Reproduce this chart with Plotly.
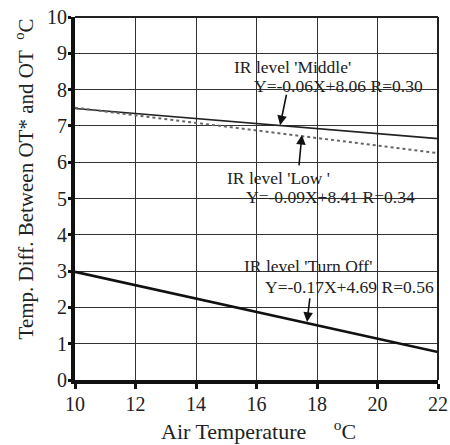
import plotly.graph_objects as go

# Data (endpoints of fitted regression lines)
air_temp = [10, 22]
middle = [7.48, 6.65]
low = [7.50, 6.25]
turn_off = [2.98, 0.77]

x_ticks = [10, 12, 14, 16, 18, 20, 22]
y_ticks = [0, 1, 2, 3, 4, 5, 6, 7, 8, 9, 10]

FONT = "Liberation Serif"

fig = go.Figure()
fig.add_trace(go.Scatter(x=air_temp, y=middle, mode="lines",
                         line=dict(color="#222", width=1.6), showlegend=False))
fig.add_trace(go.Scatter(x=air_temp, y=low, mode="lines",
                         line=dict(color="#666", width=2, dash="dot"), showlegend=False))
fig.add_trace(go.Scatter(x=air_temp, y=turn_off, mode="lines",
                         line=dict(color="#111", width=2.6), showlegend=False))

ann_font = dict(family=FONT, size=17.5, color="#222")
annotations = [
    dict(x=15.19, y=8.62, text="IR level 'Middle'"),
    dict(x=15.85, y=8.1, text="Y=-0.06X+8.06 R=0.30"),
    dict(x=14.96, y=5.56, text="IR level 'Low '"),
    dict(x=15.6, y=5.03, text="Y=-0.09X+8.41 R=0.34"),
    dict(x=15.52, y=3.13, text="IR level 'Turn Off'"),
    dict(x=16.2, y=2.55, text="Y=-0.17X+4.69 R=0.56"),
]
for a in annotations:
    a.update(showarrow=False, font=ann_font, xref="x", yref="y",
             xanchor="left", yanchor="middle")

arrows = [
    # (tail x, tail y, head x, head y)
    (17.0, 7.9, 16.78, 7.02),
    (17.4, 5.87, 17.5, 6.75),
    (17.77, 2.29, 17.67, 1.6),
]
for tx, ty, hx, hy in arrows:
    annotations.append(dict(x=hx, y=hy, ax=tx, ay=ty, xref="x", yref="y",
                            axref="x", ayref="y", text="", showarrow=True,
                            arrowhead=2, arrowsize=1.2, arrowwidth=1.6, arrowcolor="#111"))

# axis titles (placed as paper annotations to match the offset of the original)
title_font = dict(family=FONT, size=21, color="#222")
annotations.append(dict(text="Temp. Diff. Between OT* and OT&nbsp;&nbsp;<sup>o</sup>C",
                        xref="paper", yref="paper", x=-0.138, y=0.555,
                        xanchor="center", yanchor="middle", textangle=-90,
                        showarrow=False, font=title_font))
annotations.append(dict(text="Air Temperature&nbsp;&nbsp;&nbsp;&nbsp;&nbsp;<sup>o</sup>C",
                        xref="paper", yref="paper", x=0.505, y=-0.138,
                        xanchor="center", yanchor="middle",
                        showarrow=False, font=dict(family=FONT, size=22, color="#222")))

fig.update_layout(
    width=450, height=445,
    margin=dict(l=75, r=12, t=17, b=65),
    paper_bgcolor="white", plot_bgcolor="white",
    font=dict(family=FONT, color="#111", size=20),
    annotations=annotations,
    shapes=[
        dict(type="line", xref="paper", yref="paper", x0=0, x1=1, y0=1, y1=1,
             line=dict(color="#222", width=2)),
        dict(type="line", xref="paper", yref="paper", x0=1, x1=1, y0=0, y1=1,
             line=dict(color="#222", width=2)),
    ],
)
fig.update_xaxes(range=[10, 22], tickvals=x_ticks, ticktext=[str(v) for v in x_ticks],
                 showgrid=True, gridcolor="#333", gridwidth=1.3,
                 showline=True, linecolor="#111", linewidth=4,
                 ticks="outside", ticklen=5, tickwidth=3, tickcolor="#111",
                 tickfont=dict(family=FONT, size=20, color="#222"),
                 ticklabelstandoff=-2,
                 zeroline=False, automargin=False)
fig.update_yaxes(range=[0, 10], tickvals=y_ticks, ticktext=[str(v) for v in y_ticks],
                 showgrid=True, gridcolor="#333", gridwidth=1.3,
                 showline=True, linecolor="#111", linewidth=4,
                 ticks="outside", ticklen=3, tickwidth=3, tickcolor="#111",
                 tickfont=dict(family=FONT, size=20, color="#222"),
                 ticklabelstandoff=-3,
                 zeroline=False, automargin=False)

fig.write_html("out.html")
